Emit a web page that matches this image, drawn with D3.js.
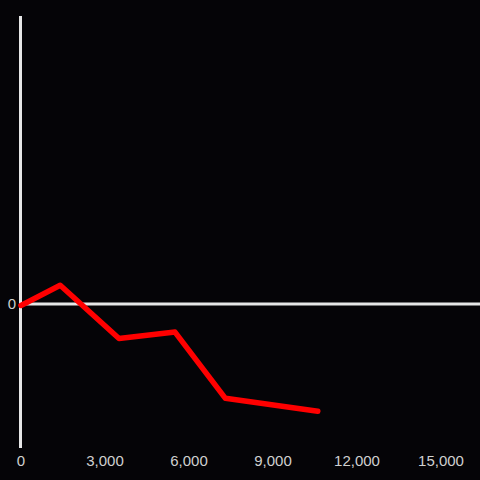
<!DOCTYPE html>
<html><head><meta charset="utf-8">
<script src="https://cdn.jsdelivr.net/npm/d3@7"></script>
<style>html,body{margin:0;padding:0;background:#050407;}</style>
</head><body>
<svg id="c" width="480" height="480"></svg>
<script>
const xValues = [0, 1400, 3500, 5500, 7300, 10600];
const yValues = [-0.1, 1.3, -2.4, -1.95, -6.55, -7.45];
const xTicks = [0, 3000, 6000, 9000, 12000, 15000];
const yTicks = [0];

const svg = d3.select("#c");
svg.append("rect").attr("width",480).attr("height",480).attr("fill","#050407");
const x = d3.scaleLinear().domain([0,15000]).range([21,441]);
const y = d3.scaleLinear().domain([-10,20]).range([448,16]);

svg.append("line").attr("x1",20.5).attr("x2",20.5).attr("y1",16).attr("y2",448)
  .attr("stroke","#e6e6e6").attr("stroke-width",3);
svg.append("line").attr("x1",20.5).attr("x2",480).attr("y1",y(0)).attr("y2",y(0))
  .attr("stroke","#e6e6e6").attr("stroke-width",3);

svg.selectAll("text.xt").data(xTicks).enter().append("text")
  .attr("x",d=>x(d)).attr("y",466).attr("text-anchor","middle")
  .attr("font-family","Liberation Sans, Arial, sans-serif").attr("font-size",15)
  .attr("fill","#d0d0d0").text(d=>d3.format(",")(d));
svg.selectAll("text.yt").data(yTicks).enter().append("text")
  .attr("x",16).attr("y",y(0)).attr("dy","0.35em").attr("text-anchor","end")
  .attr("font-family","Liberation Sans, Arial, sans-serif").attr("font-size",15)
  .attr("fill","#d0d0d0").text(d=>d);

const line = d3.line().x((d,i)=>x(xValues[i])).y(d=>y(d));
svg.append("path").datum(yValues).attr("d",line).attr("fill","none")
  .attr("stroke","#ff0000").attr("stroke-width",5.5).attr("stroke-linejoin","round").attr("stroke-linecap","round");
</script>
</body></html>
